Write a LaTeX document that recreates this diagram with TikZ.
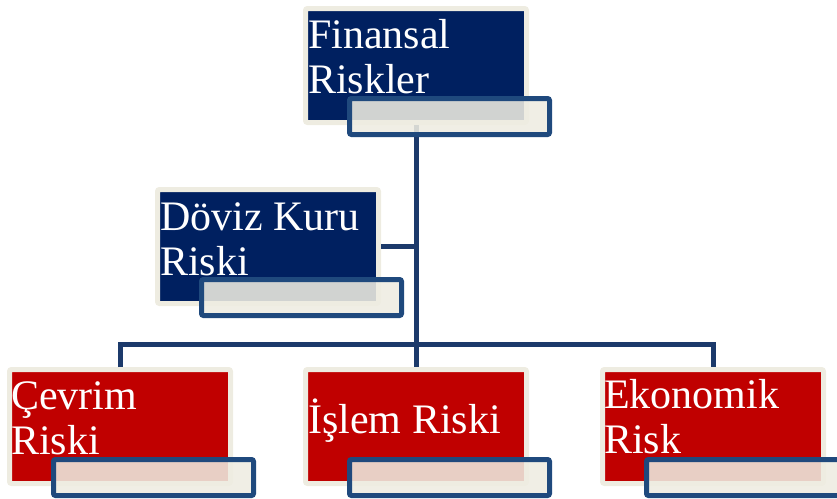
\documentclass[tikz,border=0pt]{standalone}
\usepackage{fontspec}
\setmainfont{Liberation Serif}
\definecolor{beigeC}{HTML}{EEECE1}
\definecolor{navyC}{HTML}{002060}
\definecolor{redC}{HTML}{C00000}
\definecolor{ovC}{HTML}{1F497D}
\definecolor{lnC}{HTML}{1C3A6B}
\begin{document}
\begin{tikzpicture}[x=1pt,y=-1pt,
  bigbox/.style={draw=beigeC,line width=5pt,rounded corners=2pt,minimum width=221pt,minimum height=114pt,inner sep=0pt,outer sep=2.5pt},
  navybox/.style={bigbox,fill=navyC},
  redbox/.style={bigbox,fill=redC},
  ovbox/.style={draw=ovC,line width=5pt,rounded corners=2pt,fill=beigeC,fill opacity=0.88,minimum width=200pt,minimum height=36pt,inner sep=0pt},
  lbl/.style={anchor=base west,inner sep=0pt,text=white,align=left,font={\fontsize{42}{45}\selectfont}},
  conn/.style={draw=lnC,line width=5pt}]
\useasboundingbox (0,0) rectangle (837,498);
% box frames
\node[navybox] (fin) at (416,65.5) {};
\node[navybox] (dov) at (268,246.5) {};
\node[redbox] (cev) at (120,426.5) {};
\node[redbox] (isl) at (416,426.5) {};
\node[redbox] (eko) at (713,426.5) {};
% connectors
\coordinate (bus) at (416,344);
\draw[conn] (fin.south) -- (isl.north);
\draw[conn] (dov.east) -- (dov.east -| fin.south);
\draw[conn] (cev.north) |- (bus) -| (eko.north);
% texts (anchored at the baseline of the last line)
\node[lbl] (finT) at (308,93) {Finansal\\Riskler};
\node[lbl] (dovT) at (160,275) {Döviz Kuru\\Riski};
\node[lbl] (cevT) at (11,454) {Çevrim\\Riski};
\node[lbl] (islT) at (308,433) {İşlem Riski};
\node[lbl] (ekoT) at (604,453) {Ekonomik\\Risk};
% overlay tabs
\node[ovbox] (finO) at (449.5,116.5) {};
\node[ovbox] (dovO) at (301.5,297.5) {};
\node[ovbox] (cevO) at (153.5,477.5) {};
\node[ovbox] (islO) at (449.5,477.5) {};
\node[ovbox] (ekoO) at (746.5,477.5) {};
\end{tikzpicture}
\end{document}
